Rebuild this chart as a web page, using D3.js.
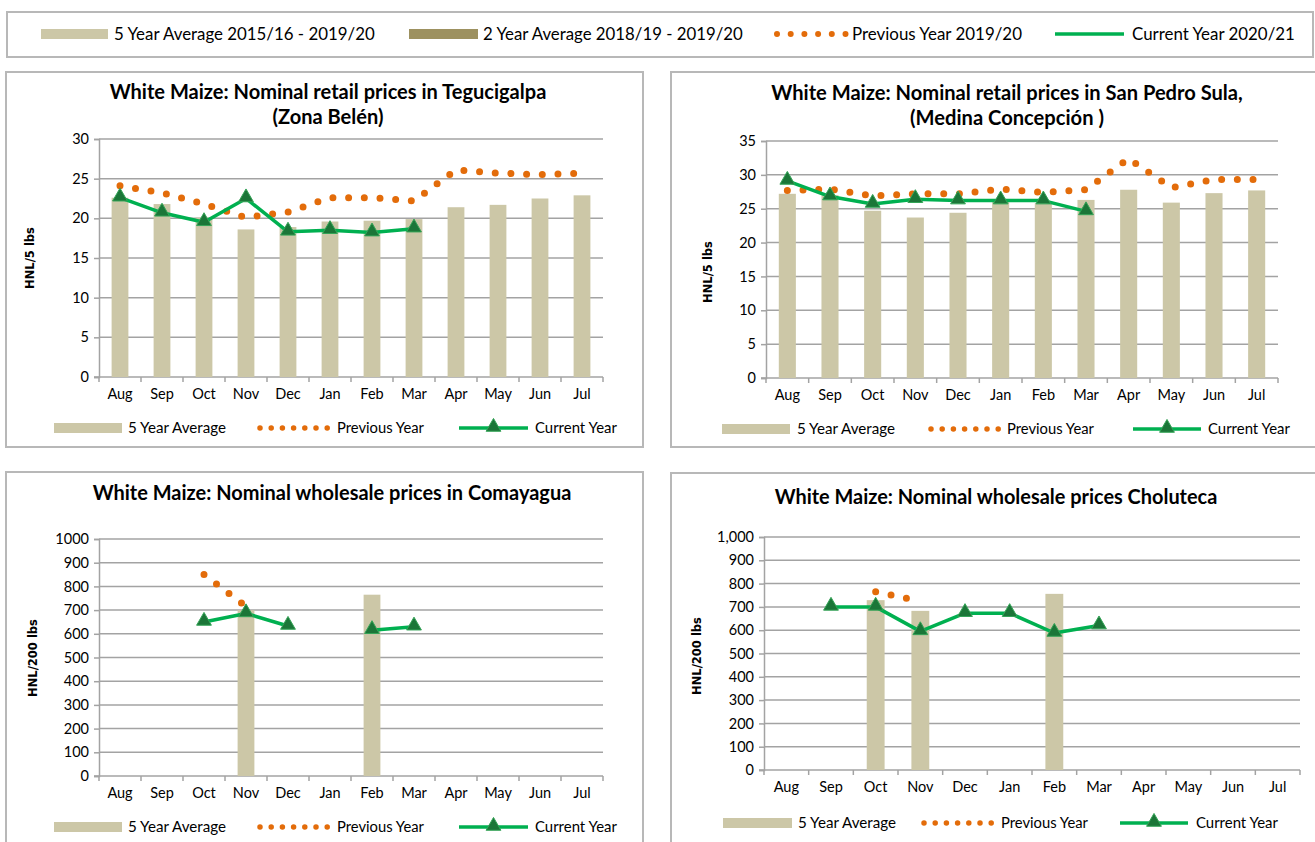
<!DOCTYPE html>
<html>
<head>
<meta charset="utf-8">
<script src="https://cdn.jsdelivr.net/npm/d3@7/dist/d3.min.js"></script>
<style>
  html, body { margin: 0; padding: 0; background: #fff; }
  svg { display: block; }
  text { font-family: Lato, "Open Sans", sans-serif; fill: #000; }
</style>
</head>
<body>
<svg id="chart" width="1315" height="842"></svg>
<script>
// ---------------- DATA ----------------
const months = ["Aug","Sep","Oct","Nov","Dec","Jan","Feb","Mar","Apr","May","Jun","Jul"];

// Tegucigalpa retail (HNL/5 lbs)
const tegFiveYear = [22.6, 21.8, 20.1, 18.6, 18.9, 19.6, 19.7, 19.9, 21.4, 21.7, 22.5, 22.9];
const tegPrevYear = [24.1, 23.2, 21.8, 20.1, 20.8, 22.6, 22.6, 22.2, 26.1, 25.7, 25.5, 25.7];
const tegCurYear  = [22.6, 20.7, 19.5, 22.5, 18.3, 18.5, 18.2, 18.7, null, null, null, null];

// San Pedro Sula retail (HNL/5 lbs)
const spsFiveYear = [27.2, 27.0, 24.7, 23.7, 24.4, 26.0, 25.8, 26.3, 27.8, 25.9, 27.3, 27.7];
const spsPrevYear = [27.7, 27.9, 26.9, 27.2, 27.2, 27.9, 27.4, 27.8, 32.4, 28.1, 29.3, 29.3];
const spsCurYear  = [29.1, 26.8, 25.7, 26.4, 26.2, 26.2, 26.2, 24.6, null, null, null, null];

// Comayagua wholesale (HNL/200 lbs)
const comFiveYear = [null, null, null, 700, null, null, 765, null, null, null, null, null];
const comPrevYear = [null, null, 850, 715, null, null, null, null, null, null, null, null];
const comCurYear  = [null, null, 650, 686, 633, null, 615, 630, null, null, null, null];

// Choluteca wholesale (HNL/200 lbs)
const choFiveYear = [null, null, 729, 683, null, null, 756, null, null, null, null, null];
const choPrevYear = [null, null, 765, 725, null, null, null, null, null, null, null, null];
const choCurYear  = [null, 700, 700, 595, 673, 673, 588, 620, null, null, null, null];

const ticksRetail1 = [0, 5, 10, 15, 20, 25, 30];
const ticksRetail2 = [0, 5, 10, 15, 20, 25, 30, 35];
const ticksWholesale = [0, 100, 200, 300, 400, 500, 600, 700, 800, 900, 1000];

const topLegendLabels = ["5 Year Average 2015/16 - 2019/20", "2 Year Average 2018/19 - 2019/20", "Previous Year 2019/20", "Current Year 2020/21"];
const panelLegendLabels = ["5 Year Average", "Previous Year", "Current Year"];

// ---------------- STYLE ----------------
const C = {
  five: "#ccc7a7",
  two: "#9d9160",
  prev: "#e36c0a",
  cur: "#00b050",
  markFill: "#1b7638",
  markStroke: "#34a457",
  grid: "#a3a3a3",
  border: "#b8b8b8"
};

const svg = d3.select("#chart");
svg.append("rect").attr("width", 1315).attr("height", 842).attr("fill", "#fff");

// scale a text's font size so that it spans the wanted width
function fit(sel, w) {
  const n = sel.node();
  const cur = n.getComputedTextLength();
  const fs = parseFloat(sel.style("font-size"));
  if (cur > 0) sel.style("font-size", (fs * w / cur).toFixed(2) + "px");
  return sel;
}

// ---------------- TOP LEGEND ----------------
const topLeg = svg.append("g");
topLeg.append("rect").attr("x", 7).attr("y", 12).attr("width", 1306).attr("height", 45)
  .attr("fill", "#fff").attr("stroke", C.border).attr("stroke-width", 2);
const tly = 34;
topLeg.append("rect").attr("x", 41).attr("y", tly - 5).attr("width", 67).attr("height", 10).attr("fill", C.five);
fit(topLeg.append("text").attr("x", 114).attr("y", tly).attr("dy", "0.35em").style("font-size", "16px").text(topLegendLabels[0]), 261);
topLeg.append("rect").attr("x", 409).attr("y", tly - 5).attr("width", 69).attr("height", 10).attr("fill", C.two);
fit(topLeg.append("text").attr("x", 483).attr("y", tly).attr("dy", "0.35em").style("font-size", "16px").text(topLegendLabels[1]), 260);
topLeg.append("line").attr("x1", 777).attr("x2", 846).attr("y1", tly).attr("y2", tly)
  .attr("stroke", C.prev).attr("stroke-width", 6).attr("stroke-linecap", "round").attr("stroke-dasharray", "0 13.7");
fit(topLeg.append("text").attr("x", 852).attr("y", tly).attr("dy", "0.35em").style("font-size", "16px").text(topLegendLabels[2]), 170);
topLeg.append("line").attr("x1", 1055).attr("x2", 1124).attr("y1", tly).attr("y2", tly)
  .attr("stroke", C.cur).attr("stroke-width", 3.5);
fit(topLeg.append("text").attr("x", 1132).attr("y", tly).attr("dy", "0.35em").style("font-size", "16px").text(topLegendLabels[3]), 163);

// ---------------- PANEL ----------------
function drawPanel(cfg) {
  const g = svg.append("g");
  g.append("rect").attr("x", cfg.box[0]).attr("y", cfg.box[1]).attr("width", cfg.box[2]).attr("height", cfg.box[3])
    .attr("fill", "#fff").attr("stroke", C.border).attr("stroke-width", 2);

  // title
  cfg.title.forEach((t, i) => {
    fit(g.append("text").attr("x", cfg.titleX).attr("y", cfg.titleY[i]).attr("dy", "0.35em")
      .attr("text-anchor", "middle").style("font-size", "17px").style("font-weight", "bold").text(t), cfg.titleW[i]);
  });

  const x = d3.scaleBand().domain(months).range([cfg.x0, cfg.x1]).paddingInner(0.6).paddingOuter(0.3);
  const step = x.step(), bw = x.bandwidth();
  const cx = m => x(m) + bw / 2;
  const y = d3.scaleLinear().domain([0, cfg.yMax]).range([cfg.yBot, cfg.yTop]);

  // gridlines
  g.append("g").selectAll("line").data(cfg.ticks.filter(t => t > 0)).join("line")
    .attr("x1", cfg.x0).attr("x2", cfg.x1).attr("y1", d => y(d)).attr("y2", d => y(d))
    .attr("stroke", C.grid).attr("stroke-width", 1.5);

  // y axis
  const yAxis = g.append("g").attr("transform", `translate(${cfg.x0},0)`)
    .call(d3.axisLeft(y).tickValues(cfg.ticks).tickSize(5).tickPadding(5).tickFormat(cfg.fmt));
  yAxis.select(".domain").attr("stroke", C.grid).attr("stroke-width", 1.5);
  yAxis.selectAll(".tick line").attr("stroke", C.grid).attr("stroke-width", 1.5);
  yAxis.selectAll(".tick text").style("font-family", "Lato, sans-serif").style("font-size", "14.5px").attr("fill", "#000");

  // x axis (labels at centers, ticks at boundaries)
  const xAxis = g.append("g").attr("transform", `translate(0,${cfg.yBot})`)
    .call(d3.axisBottom(x).tickSize(0).tickPadding(cfg.xLabelY - cfg.yBot - 9));
  xAxis.select(".domain").remove();
  xAxis.selectAll(".tick text").style("font-family", "Lato, sans-serif").style("font-size", "14.5px").attr("fill", "#000");
  g.append("line").attr("x1", cfg.x0 - 5).attr("x2", cfg.x1).attr("y1", cfg.yBot).attr("y2", cfg.yBot)
    .attr("stroke", C.grid).attr("stroke-width", 1.5);
  const bounds = months.map(m => cx(m) - step / 2).concat([cx(months[11]) + step / 2]);
  g.append("g").selectAll("line").data(bounds).join("line")
    .attr("x1", d => d).attr("x2", d => d).attr("y1", cfg.yBot).attr("y2", cfg.yBot + 5)
    .attr("stroke", C.grid).attr("stroke-width", 1.5);

  // y title
  g.append("text").attr("transform", `translate(${cfg.yTitleX},${cfg.yTitleY}) rotate(-90)`)
    .attr("text-anchor", "middle").attr("dy", "0.35em")
    .style("font-family", "'DejaVu Sans', Verdana, sans-serif").style("font-size", "11.5px").style("font-weight", "bold")
    .text(cfg.yTitle);

  // bars
  const barData = months.map((m, i) => ({ m, v: cfg.five[i] })).filter(d => d.v != null);
  g.append("g").selectAll("rect").data(barData).join("rect")
    .attr("x", d => x(d.m)).attr("width", bw)
    .attr("y", d => y(d.v)).attr("height", d => y(0) - y(d.v))
    .attr("fill", C.five);

  // previous year dotted line
  const prevData = months.map((m, i) => ({ m, v: cfg.prev[i] }));
  const line = d3.line().defined(d => d.v != null).x(d => cx(d.m)).y(d => y(d.v));
  g.append("path").datum(prevData).attr("d", line).attr("fill", "none")
    .attr("stroke", C.prev).attr("stroke-width", 7).attr("stroke-linecap", "round")
    .attr("stroke-dasharray", "0 15.7");

  // current year line + markers
  const curData = months.map((m, i) => ({ m, v: cfg.cur[i] }));
  g.append("path").datum(curData).attr("d", line).attr("fill", "none")
    .attr("stroke", C.cur).attr("stroke-width", 3.5).attr("stroke-linejoin", "round");
  const tri = d3.symbol().type(d3.symbolTriangle).size(95);
  g.append("g").selectAll("path").data(curData.filter(d => d.v != null)).join("path")
    .attr("transform", d => `translate(${cx(d.m)},${y(d.v) - 1})`)
    .attr("d", tri).attr("fill", C.markFill).attr("stroke", C.markStroke).attr("stroke-width", 1);

  // legend
  const L = cfg.leg, ly = L.y;
  g.append("rect").attr("x", L.sw[0]).attr("y", ly - 5).attr("width", L.sw[1] - L.sw[0]).attr("height", 10).attr("fill", C.five);
  fit(g.append("text").attr("x", L.t1).attr("y", ly).attr("dy", "0.35em").style("font-size", "14px").text(panelLegendLabels[0]), 98);
  g.append("line").attr("x1", L.dots[0]).attr("x2", L.dots[1] + 1).attr("y1", ly).attr("y2", ly)
    .attr("stroke", C.prev).attr("stroke-width", 5.5).attr("stroke-linecap", "round").attr("stroke-dasharray", "0 11.2");
  fit(g.append("text").attr("x", L.t2).attr("y", ly).attr("dy", "0.35em").style("font-size", "14px").text(panelLegendLabels[1]), 87);
  g.append("line").attr("x1", L.line[0]).attr("x2", L.line[1]).attr("y1", ly).attr("y2", ly)
    .attr("stroke", C.cur).attr("stroke-width", 3.5);
  g.append("path").attr("transform", `translate(${(L.line[0] + L.line[1]) / 2},${ly - 1})`)
    .attr("d", tri).attr("fill", C.markFill).attr("stroke", C.markStroke).attr("stroke-width", 1);
  fit(g.append("text").attr("x", L.t3).attr("y", ly).attr("dy", "0.35em").style("font-size", "14px").text(panelLegendLabels[2]), 82);
}

drawPanel({
  box: [6, 72, 637, 375],
  title: ["White Maize: Nominal retail prices in Tegucigalpa", "(Zona Belén)"], titleX: 328, titleY: [92, 117], titleW: [437, 111],
  x0: 99, x1: 603, yTop: 139, yBot: 377, yMax: 30, ticks: ticksRetail1, fmt: d3.format("d"),
  yTitle: "HNL/5 lbs", yTitleX: 30, yTitleY: 258, xLabelY: 398,
  five: tegFiveYear, prev: tegPrevYear, cur: tegCurYear,
  leg: { y: 428, sw: [54, 122], t1: 128, dots: [260, 327], t2: 337, line: [459, 528], t3: 535 }
});

drawPanel({
  box: [671, 72, 660, 375],
  title: ["White Maize: Nominal retail prices in San Pedro Sula,", "(Medina Concepción )"], titleX: 1007, titleY: [93, 118], titleW: [472, 194],
  x0: 766, x1: 1278, yTop: 141, yBot: 378, yMax: 35, ticks: ticksRetail2, fmt: d3.format("d"),
  yTitle: "HNL/5 lbs", yTitleX: 708, yTitleY: 272, xLabelY: 399,
  five: spsFiveYear, prev: spsPrevYear, cur: spsCurYear,
  leg: { y: 429, sw: [722, 790], t1: 797, dots: [931, 998], t2: 1007, line: [1133, 1201], t3: 1208 }
});

drawPanel({
  box: [6, 472, 637, 390],
  title: ["White Maize: Nominal wholesale prices in Comayagua"], titleX: 332, titleY: [493], titleW: [479],
  x0: 99, x1: 603, yTop: 539, yBot: 776, yMax: 1000, ticks: ticksWholesale, fmt: d3.format("d"),
  yTitle: "HNL/200 lbs", yTitleX: 33, yTitleY: 658, xLabelY: 797,
  five: comFiveYear, prev: comPrevYear, cur: comCurYear,
  leg: { y: 827, sw: [54, 122], t1: 128, dots: [260, 327], t2: 337, line: [459, 528], t3: 535 }
});

drawPanel({
  box: [671, 473, 660, 390],
  title: ["White Maize: Nominal wholesale prices Choluteca"], titleX: 996, titleY: [497], titleW: [443],
  x0: 764, x1: 1300, yTop: 537, yBot: 770, yMax: 1000, ticks: ticksWholesale, fmt: d3.format(","),
  yTitle: "HNL/200 lbs", yTitleX: 697, yTitleY: 656, xLabelY: 791,
  five: choFiveYear, prev: choPrevYear, cur: choCurYear,
  leg: { y: 823, sw: [723, 792], t1: 798, dots: [924, 993], t2: 1001, line: [1120, 1188], t3: 1196 }
});
</script>
</body>
</html>
